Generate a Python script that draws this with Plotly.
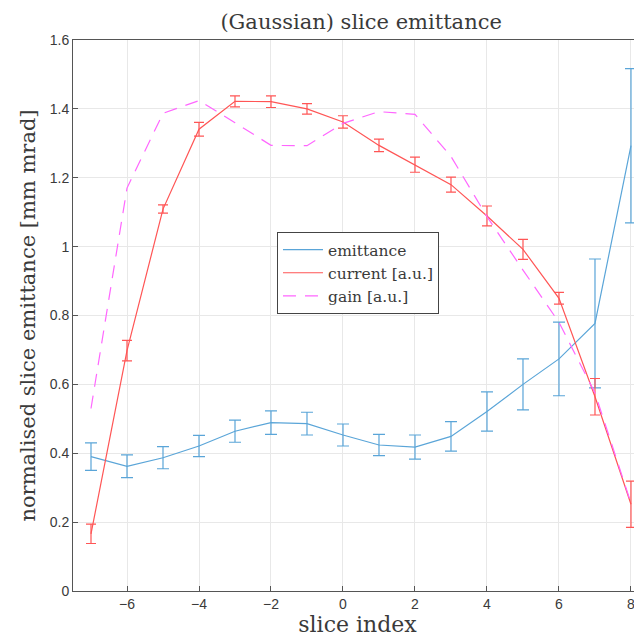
import plotly.graph_objects as go

slice_index = [-7, -6, -5, -4, -3, -2, -1, 0, 1, 2, 3, 4, 5, 6, 7, 8]
emittance = [0.390, 0.362, 0.387, 0.421, 0.464, 0.489, 0.486, 0.453, 0.424, 0.418, 0.449, 0.521, 0.600, 0.674, 0.777, 1.293]
emittance_err = [0.040, 0.033, 0.032, 0.031, 0.032, 0.034, 0.033, 0.032, 0.031, 0.035, 0.043, 0.057, 0.074, 0.107, 0.187, 0.224]
current = [0.166, 0.698, 1.109, 1.341, 1.422, 1.421, 1.400, 1.362, 1.294, 1.238, 1.180, 1.089, 0.992, 0.850, 0.564, 0.252]
current_err = [0.028, 0.030, 0.012, 0.020, 0.016, 0.017, 0.015, 0.018, 0.018, 0.022, 0.022, 0.029, 0.029, 0.017, 0.053, 0.067]
gain = [0.530, 1.170, 1.387, 1.424, 1.360, 1.294, 1.293, 1.358, 1.392, 1.384, 1.262, 1.087, 0.932, 0.780, 0.575, 0.255]

x_ticks = [-6, -4, -2, 0, 2, 4, 6, 8]
y_ticks = [0, 0.2, 0.4, 0.6, 0.8, 1, 1.2, 1.4, 1.6]

BLUE = "#5aa5d8"
RED = "#ff5555"
MAGENTA = "#ff66ff"
SERIF = "DejaVu Serif"
SANS = "Liberation Sans"
TXT = "#3a3a3a"

fig = go.Figure()
fig.add_trace(go.Scatter(
    x=slice_index, y=emittance, mode="lines", name="emittance",
    line=dict(color=BLUE, width=1.2),
    error_y=dict(type="data", array=emittance_err, color=BLUE, thickness=1.2, width=6),
))
fig.add_trace(go.Scatter(
    x=slice_index, y=current, mode="lines", name="current [a.u.]",
    line=dict(color=RED, width=1.2),
    error_y=dict(type="data", array=current_err, color=RED, thickness=1.2, width=5),
))
fig.add_trace(go.Scatter(
    x=slice_index, y=gain, mode="lines", name="gain [a.u.]",
    line=dict(color=MAGENTA, width=1.2, dash="13px,9px"),
))

fig.update_layout(
    width=634, height=636,
    margin=dict(l=65, r=0, t=32, b=53),
    paper_bgcolor="white", plot_bgcolor="white",
    title=dict(text="(Gaussian) slice emittance", x=0.557, xanchor="center",
               y=0.979, yanchor="middle",
               font=dict(family=SERIF, size=21, color=TXT)),
    showlegend=True,
    legend=dict(x=0.3585, y=0.6515, xanchor="left", yanchor="top",
                bgcolor="white", bordercolor="#444444", borderwidth=1,
                font=dict(family=SERIF, size=15.5, color=TXT),
                tracegroupgap=0, itemwidth=40),
)
fig.update_xaxes(
    range=[-7.5, 8.306], tickvals=x_ticks,
    showgrid=True, gridcolor="#e8e8e8", gridwidth=1,
    showline=True, linecolor="#555555", linewidth=1, mirror=True,
    ticks="inside", ticklen=5, tickcolor="#555555",
    tickfont=dict(family=SANS, size=14, color=TXT),
    zeroline=False,
    title=dict(text="slice index", font=dict(family=SERIF, size=22, color=TXT), standoff=4),
)
fig.update_yaxes(
    range=[0, 1.6], tickvals=y_ticks,
    showgrid=True, gridcolor="#e8e8e8", gridwidth=1,
    showline=True, linecolor="#555555", linewidth=1, mirror=True,
    ticks="inside", ticklen=5, tickcolor="#555555",
    tickfont=dict(family=SANS, size=14, color=TXT),
    zeroline=False,
    title=dict(text="normalised slice emittance [mm mrad]", font=dict(family=SERIF, size=21, color=TXT), standoff=8),
)

fig.write_html("out.html")
